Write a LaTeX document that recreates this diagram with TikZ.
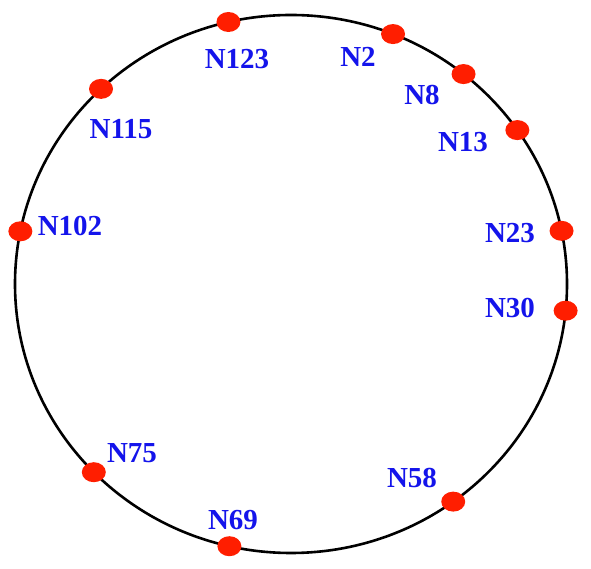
\documentclass[tikz,border=0pt]{standalone}
\usepackage{fontspec}
\setmainfont{Liberation Serif}
\usepackage{tikz}
\usetikzlibrary{shapes.geometric, positioning}
\definecolor{ringred}{RGB}{255,30,0}
\definecolor{labelblue}{RGB}{20,20,235}

\tikzset{
  peer/.style={ellipse, fill=ringred, minimum width=24pt, minimum height=20pt, inner sep=0pt},
  peerlabel/.style={text=labelblue, font=\fontsize{29}{32}\selectfont\bfseries, inner sep=0pt}
}

\begin{document}
\begin{tikzpicture}[x=1pt, y=1pt]
  \useasboundingbox (0,0) rectangle (591,569);
  % ring
  \draw[line width=2.6pt] (291,285) ellipse [x radius=276, y radius=269];
  % peers on the ring
  \foreach \id/\ang in {123/103.1, 2/68.3, 8/51.3, 13/34.9, 23/11.4, 30/-5.7,
                        58/-54.0, 69/257.1, 75/224.4, 102/168.7, 115/133.5} {
    \node[peer] (n\id) at ({291+276*cos(\ang)}, {285+269*sin(\ang)}) {};
  }
  % labels
  \node[peerlabel] (l123) at (237,510) {N123};
  \node[peerlabel] (l2)   at (358,512) {N2};
  \node[peerlabel] (l8)   at (422,474) {N8};
  \node[peerlabel] (l13)  at (463,427) {N13};
  \node[peerlabel] (l23)  at (510,336) {N23};
  \node[peerlabel] (l30)  at (510,261) {N30};
  \node[peerlabel] (l58)  at (412,91)  {N58};
  \node[peerlabel] (l69)  at (233,49)  {N69};
  \node[peerlabel] (l75)  at (132,116) {N75};
  \node[peerlabel] (l102) at (70,343)  {N102};
  \node[peerlabel] (l115) at (121,440) {N115};
\end{tikzpicture}
\end{document}
